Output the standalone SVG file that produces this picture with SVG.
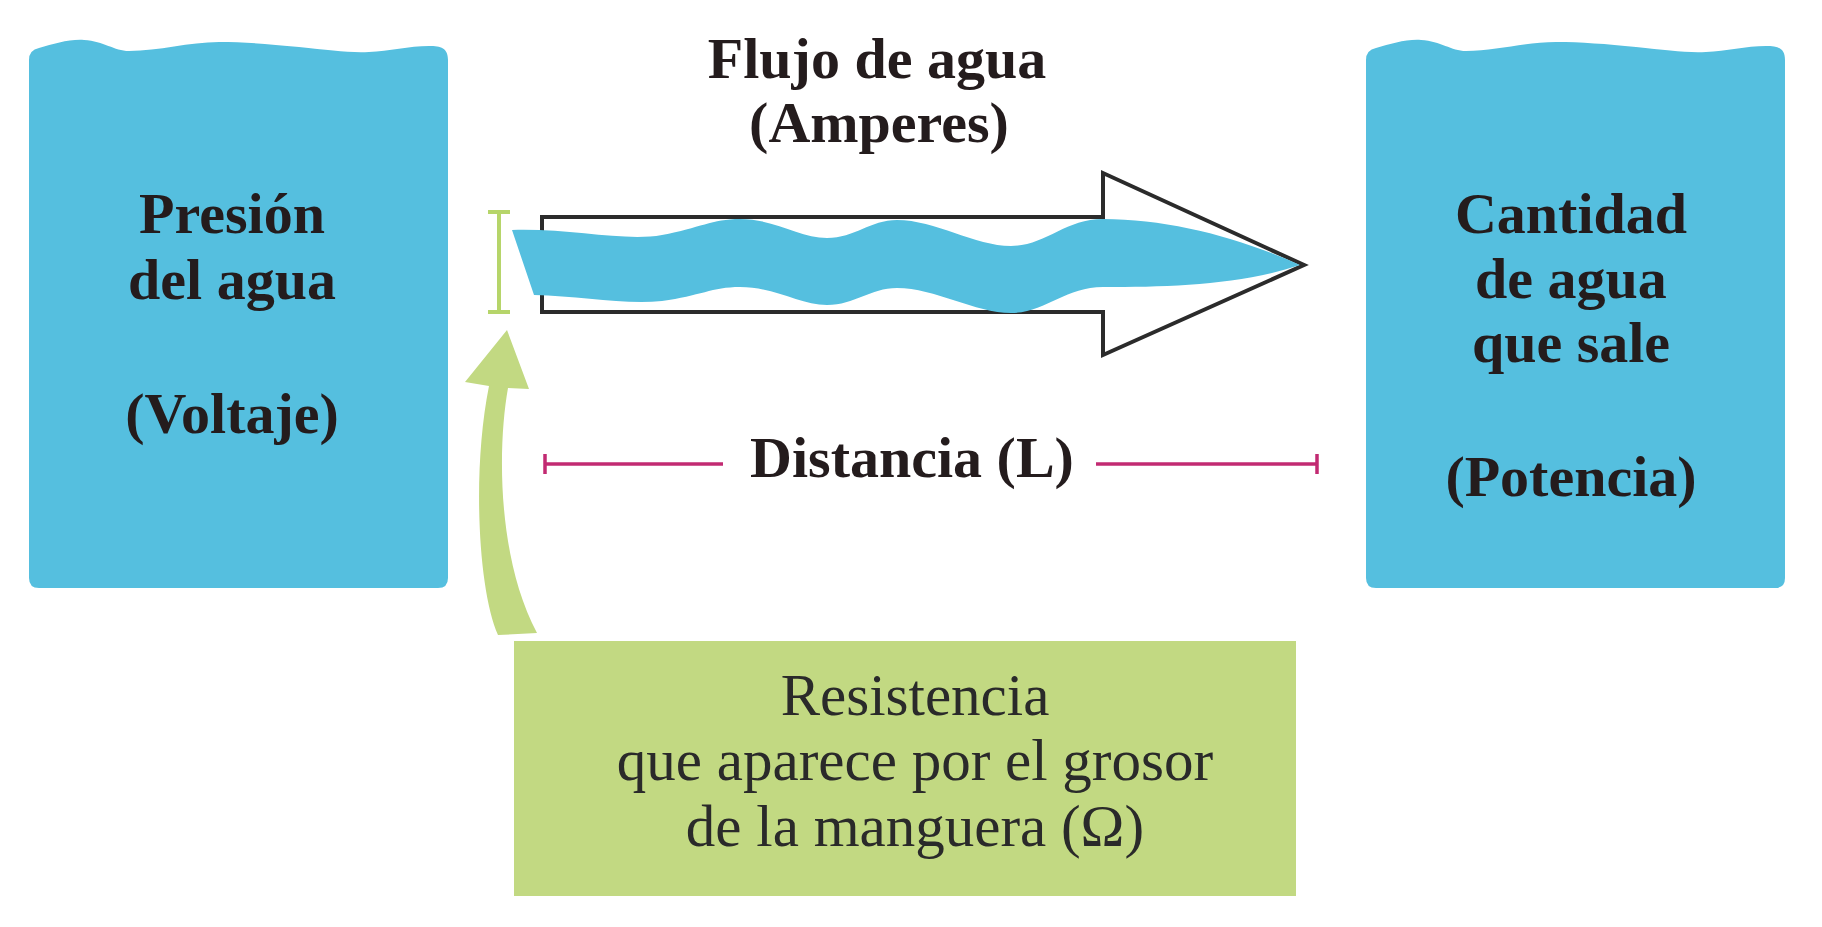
<svg xmlns="http://www.w3.org/2000/svg" width="1822" height="927" viewBox="0 0 1822 927">
<style>
.bold{font-family:"Liberation Serif","Times New Roman",serif;font-weight:bold;font-size:58px;fill:#241c1d;text-anchor:middle}
.reg{font-family:"Liberation Serif","Times New Roman",serif;font-size:59px;fill:#2a2a2a;text-anchor:middle}
.water{fill:#55bfdf}
.green{fill:#c2d982}
</style>
<defs>
<path id="tank" d="M 0 60 Q 0 50 10 48 C 25 44 40 39 55 40 C 75 41 85 51 100 51 C 130 51 160 42 190 42 C 215 42 240 44 270 47 C 300 50 320 53 340 52 C 360 51 380 46 400 46 C 412 46 419 48 419 60 L 419 578 Q 419 588 409 588 L 10 588 Q 0 588 0 578 Z"/>
</defs>
<rect width="1822" height="927" fill="#ffffff"/>

<g id="left-box">
<use href="#tank" x="29" class="water"/>
<text class="bold" x="232" y="233">Presión</text>
<text class="bold" x="232" y="299">del agua</text>
<text class="bold" x="232" y="433">(Voltaje)</text>
</g>

<g id="right-box">
<use href="#tank" x="1366" class="water"/>
<text class="bold" x="1571" y="233">Cantidad</text>
<text class="bold" x="1571" y="298">de agua</text>
<text class="bold" x="1571" y="362">que sale</text>
<text class="bold" x="1571" y="496">(Potencia)</text>
</g>

<g id="flow-label">
<text class="bold" x="877" y="78">Flujo de agua</text>
<text class="bold" x="879" y="142">(Amperes)</text>
</g>

<g id="hose-arrow">
<path d="M 542 217 L 1103 217 L 1103 173 L 1304 265 L 1103 355 L 1103 312 L 542 312 Z" fill="#ffffff" stroke="#2b2b2b" stroke-width="4" stroke-linejoin="miter"/>
</g>

<g id="water-stream">
<path class="water" d="M 512 230 C 570 228 625 242 662 235 C 700 228 712 219 740 219 C 775 219 800 238 827 238 C 855 238 870 220 897 220 C 935 220 975 246 1011 246 C 1045 246 1065 219 1103 219 C 1170 219 1240 238 1300 265 C 1240 285 1170 287 1103 287 C 1065 287 1045 313 1011 313 C 975 313 935 288 897 288 C 870 288 855 305 827 305 C 800 305 775 287 740 287 C 712 287 700 296 662 301 C 625 305 580 296 534 295 Z"/>
</g>

<g id="thickness-marker" stroke="#b6d56a" stroke-width="4" fill="none">
<line x1="499" y1="212" x2="499" y2="312"/>
<line x1="488" y1="212" x2="510" y2="212"/>
<line x1="488" y1="312" x2="510" y2="312"/>
</g>

<g id="distance">
<g stroke="#c22a72" stroke-width="3.5" fill="none">
<line x1="545" y1="464" x2="723" y2="464"/>
<line x1="545" y1="454" x2="545" y2="474"/>
<line x1="1096" y1="464" x2="1317" y2="464"/>
<line x1="1317" y1="454" x2="1317" y2="474"/>
</g>
<text class="bold" x="912" y="477">Distancia (L)</text>
</g>

<g id="resistance-box">
<rect class="green" x="514" y="641" width="782" height="255"/>
<text class="reg" x="915" y="715">Resistencia</text>
<text class="reg" x="915" y="780">que aparece por el grosor</text>
<text class="reg" x="915" y="846">de la manguera (Ω)</text>
</g>

<g id="connectors">
<path class="green" d="M 498 635 C 478 590 472 470 489 386 L 465 382 L 507 330 L 529 389 L 508 388 C 497 450 498 560 537 633 Z"/>
</g>
</svg>
